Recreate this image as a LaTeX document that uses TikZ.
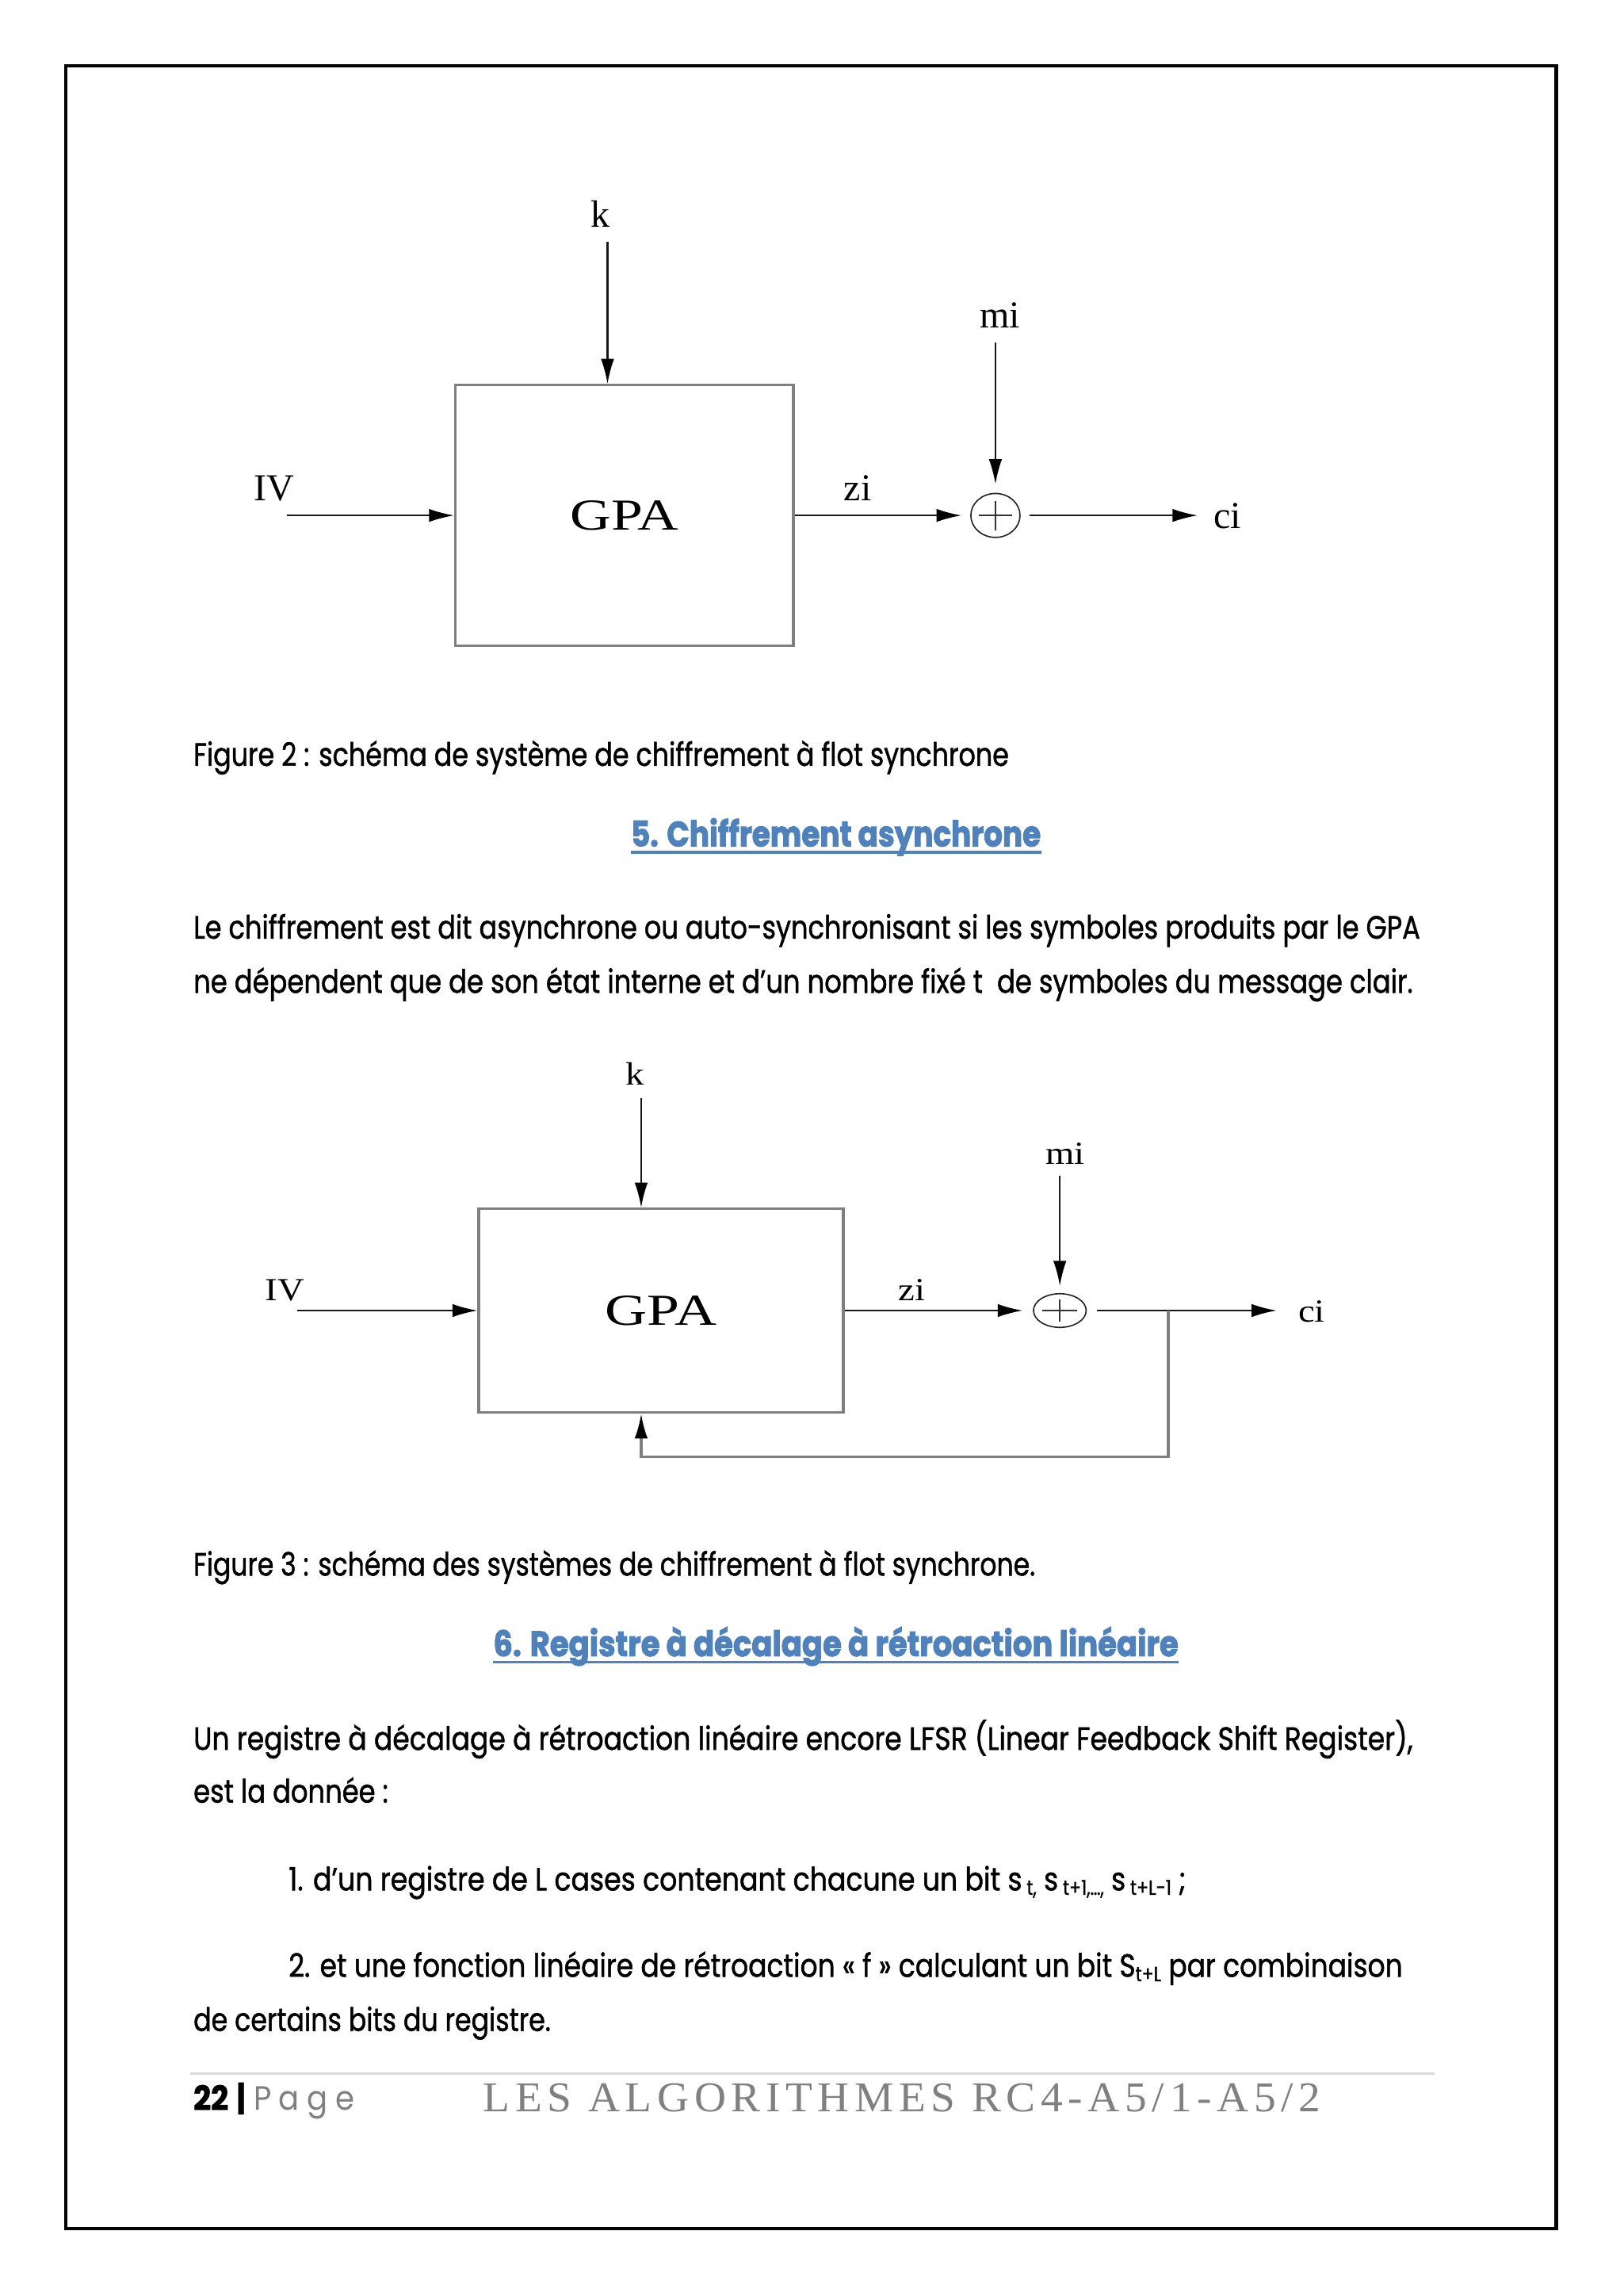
\documentclass[tikz,border=0pt]{standalone}
\usepackage{fontspec}
\usetikzlibrary{arrows.meta,shapes.geometric}
\setmainfont{Liberation Serif}
\newfontfamily\bodyfont{Poppins}[FakeBold=1.3]
\newfontfamily\headfont{Poppins}[FakeBold=2.5]
\newfontfamily\pagefont{Poppins}[LetterSpace=25]
\newfontfamily\footserif{Liberation Serif}[LetterSpace=12]
\definecolor{headblue}{HTML}{4F81BD}
\definecolor{footgray}{HTML}{808080}
\definecolor{rulegray}{HTML}{D9D9D9}
\definecolor{boxgray}{HTML}{7F7F7F}
\newcommand\bodysize{\fontsize{22}{22}\selectfont}
\newcommand\lblfont{\fontsize{26}{26}\selectfont}
\newcommand\lblfontb{\fontsize{22}{22}\selectfont}
\newsavebox\fitbox
\newcommand\fitw[2]{\sbox\fitbox{#2}\pgfmathsetmacro\fitr{#1/\the\wd\fitbox}\scalebox{\fitr}[1]{\usebox\fitbox}}
\newcommand\subtxt[1]{\raisebox{-3pt}{\fontsize{14}{14}\selectfont #1}}
\begin{document}
\begin{tikzpicture}[x=1pt,y=-1pt,
  lbl/.style={inner sep=0, anchor=base, font=\lblfont},
  lblb/.style={inner sep=0, anchor=base, font=\lblfontb},
  gpabox/.style={draw=boxgray, line width=1.8pt, inner sep=0},
  xorst/.style={ellipse, draw=black!85, line width=0.9pt, inner sep=0},
  xorplus/.style={draw=black!80, line width=0.9pt},
  arr/.style={line width=1.1pt, draw=black!90, -{Latex[length=17pt,width=9pt,color=black]}},
  fb/.style={line width=1.8pt, draw=boxgray},
  txt/.style={anchor=base west, inner sep=0, font=\bodyfont\bodysize},
  head/.style={anchor=base, inner sep=0, text=headblue, font=\headfont\fontsize{24}{24}\selectfont\bfseries},
  headrule/.style={draw=headblue, line width=1.8pt}]
\fill[white] (0,0) rectangle (1109,1568);
\useasboundingbox (0,0) rectangle (1109,1568);
% page frame
\draw[line width=2.5pt] (45,45) rectangle (1063,1522);

% ---------- Figure 2 ----------
\node[gpabox, minimum width=231pt, minimum height=178pt] (gpa1) at (426.5,352) {\resizebox{74pt}{20pt}{GPA}};
\node[xorst, minimum width=33.6pt, minimum height=30pt] (xor1) at (680,352) {};
\draw[xorplus] ([xshift=-11.5pt]xor1.center) -- ([xshift=11.5pt]xor1.center);
\draw[xorplus] ([yshift=-10pt]xor1.center) -- ([yshift=10pt]xor1.center);
\node[lbl] (k1) at (410,155) {k};
\node[lbl] (iv1) at (187.5,342) {IV};
\node[lbl] (zi1) at (586,342) {zi};
\node[lbl] (mi1) at (683,224) {mi};
\node[lbl] (ci1) at (838.5,361) {ci};
\coordinate (k1s) at (415,165);
\coordinate (iv1s) at (196,352);
\coordinate (mi1s) at (680,234);
\coordinate (ci1e) at (818,352);
\draw[arr] (k1s) -- (k1s |- gpa1.north);
\draw[arr] (iv1s) -- (gpa1.west);
\draw[arr, shorten >=6pt] (gpa1.east) -- (xor1.west);
\draw[arr, shorten >=6pt] (mi1s) -- (xor1.north);
\draw[arr, shorten <=6pt] (xor1.east) -- (ci1e);

\node[txt] (cap2) at (132,523) {\fitw{557}{Figure 2 : schéma de système de chiffrement à flot synchrone}};

\node[head] (h5) at (571,578) {\fitw{280}{5. Chiffrement asynchrone}};
\draw[headrule] ([yshift=-4pt]h5.base west) -- ([yshift=-4pt]h5.base east);

\node[txt] (p1) at (132,641) {\fitw{838}{Le chiffrement est dit asynchrone ou auto-synchronisant si les symboles produits par le GPA}};
\node[txt] (p2) at (132,678) {\fitw{833}{ne dépendent que de son état interne et d’un nombre fixé t\ \ de symboles du message clair.}};

% ---------- Figure 3 ----------
\node[gpabox, minimum width=249pt, minimum height=139pt] (gpa2) at (451.5,895) {\resizebox{76pt}{20pt}{GPA}};
\node[xorst, minimum width=36pt, minimum height=23pt] (xor2) at (724,895) {};
\draw[xorplus] ([xshift=-12pt]xor2.center) -- ([xshift=12pt]xor2.center);
\draw[xorplus] ([yshift=-7.5pt]xor2.center) -- ([yshift=7.5pt]xor2.center);
\node[lblb] (k2) at (434,741) {\scalebox{1.15}[1]{k}};
\node[lblb] (iv2) at (194.5,888) {\scalebox{1.15}[1]{IV}};
\node[lblb] (zi2) at (623,888) {\scalebox{1.15}[1]{zi}};
\node[lblb] (mi2) at (727.5,795) {\scalebox{1.15}[1]{mi}};
\node[lblb] (ci2) at (896,903) {\scalebox{1.15}[1]{ci}};
\coordinate (k2s) at (438,750);
\coordinate (iv2s) at (203,895);
\coordinate (mi2s) at (724,803);
\coordinate (ci2e) at (872,895);
\coordinate (j2) at (798,895);
\coordinate (fbc) at (798,995);
\draw[arr] (k2s) -- (k2s |- gpa2.north);
\draw[arr] (iv2s) -- (gpa2.west);
\draw[arr, shorten >=7pt] (gpa2.east) -- (xor2.west);
\draw[arr, shorten >=5pt] (mi2s) -- (xor2.north);
\draw[arr, shorten <=7pt] (xor2.east) -- (ci2e);
\draw[fb, -{Latex[length=17pt,width=9pt,color=black]}] (j2) -- (fbc) -- (k2s |- fbc) -- (k2s |- gpa2.south);

\node[txt] (cap3) at (132,1076) {\fitw{575}{Figure 3 : schéma des systèmes de chiffrement à flot synchrone.}};

\node[head] (h6) at (571,1131) {\fitw{468}{6. Registre à décalage à rétroaction linéaire}};
\draw[headrule] ([yshift=-4pt]h6.base west) -- ([yshift=-4pt]h6.base east);

\node[txt] (l1) at (132,1195) {\fitw{833}{Un registre à décalage à rétroaction linéaire encore LFSR (Linear Feedback Shift Register),}};
\node[txt] (l2) at (132,1231) {\fitw{133}{est la donnée :}};
\node[txt] (i1) at (197,1291) {\fitw{613}{1. d’un registre de L cases contenant chacune un bit s\,\subtxt{t,} s\,\subtxt{t+1,…,} s\,\subtxt{t+L-1} ;}};
\node[txt] (i2) at (197,1350) {\fitw{761}{2. et une fonction linéaire de rétroaction « f » calculant un bit S\subtxt{t+L} par combinaison}};
\node[txt] (l3) at (132,1387) {\fitw{244}{de certains bits du registre.}};

% ---------- footer ----------
\draw[draw=rulegray, line width=1.5pt] (130,1416) -- (980,1416);
\node[anchor=base west, inner sep=0, font=\bodyfont\fontsize{23}{23}\selectfont] (pg) at (132,1441) {\fitw{110}{\textbf{22} \textbf{|} {\pagefont\color{footgray}Page}}};
\node[anchor=base west, inner sep=0, text=footgray, font=\footserif\fontsize{29}{29}\selectfont] (ttl) at (330,1442) {\fitw{572}{LES ALGORITHMES RC4-A5/1-A5/2}};
\end{tikzpicture}
\end{document}
